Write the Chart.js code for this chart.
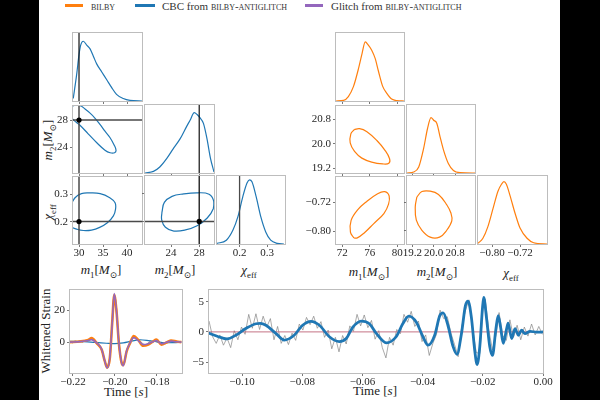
<!DOCTYPE html>
<html>
<head>
<meta charset="utf-8">
<script src="https://cdn.jsdelivr.net/npm/chart.js@4.4.1/dist/chart.umd.min.js"></script>
<style>
  html, body { margin: 0; padding: 0; background: #000; }
  body { width: 600px; height: 400px; position: relative; overflow: hidden; font-family: 'Liberation Serif', 'DejaVu Serif', serif; }
  #page { position: absolute; left: 39px; top: 0; width: 521px; height: 400px; background: #fff; }
  .lab { position: absolute; transform: translate(-50%, -50%); white-space: nowrap; font-size: 13px; color: #222; line-height: 14px; }
  .rot { transform: translate(-50%, -50%) rotate(-90deg); }
  .sw { position: absolute; height: 3px; }
  .lg { position: absolute; font-size: 11px; line-height: 12px; color: #333; white-space: nowrap; }
  .sc { font-variant: small-caps; }
  sub { font-size: 68%; line-height: 0; }
</style>
</head>
<body>
<div id="page"></div>

<!-- legend -->
<div class="sw" style="left:65px;top:4px;width:18px;background:#ff7f0e"></div>
<div class="lg" style="left:91px;top:0px"><span class="sc">bilby</span></div>
<div class="sw" style="left:135px;top:4px;width:20px;background:#1f77b4"></div>
<div class="lg" style="left:162px;top:0px">CBC from <span class="sc">bilby-antiglitch</span></div>
<div class="sw" style="left:305px;top:4px;width:18px;background:#9467bd"></div>
<div class="lg" style="left:331px;top:0px">Glitch from <span class="sc">bilby-antiglitch</span></div>

<!-- axis labels -->
<div class="lab" style="left:101px;top:270px"><i>m</i><sub>1</sub>[<i>M</i><sub>⊙</sub>]</div>
<div class="lab" style="left:175px;top:270px"><i>m</i><sub>2</sub>[<i>M</i><sub>⊙</sub>]</div>
<div class="lab" style="left:249px;top:270px"><i>χ</i><sub>eff</sub></div>
<div class="lab rot" style="left:48px;top:140px"><i>m</i><sub>2</sub>[<i>M</i><sub>⊙</sub>]</div>
<div class="lab rot" style="left:48px;top:212px"><i>χ</i><sub>eff</sub></div>
<div class="lab" style="left:369px;top:272px"><i>m</i><sub>1</sub>[<i>M</i><sub>⊙</sub>]</div>
<div class="lab" style="left:437px;top:272px"><i>m</i><sub>2</sub>[<i>M</i><sub>⊙</sub>]</div>
<div class="lab" style="left:511px;top:273px"><i>χ</i><sub>eff</sub></div>
<div class="lab rot" style="left:46px;top:331px">Whitened Strain</div>
<div class="lab" style="left:126px;top:392px">Time [<i>s</i>]</div>
<div class="lab" style="left:375px;top:391px">Time [<i>s</i>]</div>

<script>
// ---- CBC from bilby-antiglitch (left corner) ----
const cbcM1X = [28.8, 29.5, 30.0, 30.35, 30.9, 31.6, 32.3, 33.0, 33.7, 34.7, 35.8, 36.8, 37.8, 39.2, 40.6, 43.1];
const cbcM1P = [0.04, 0.41, 0.73, 0.88, 0.94, 0.88, 0.82, 0.70, 0.58, 0.46, 0.33, 0.21, 0.105, 0.04, 0.01, 0];
const cbcM2X = [20.3, 21.5, 22.4, 23.4, 24.3, 25.3, 26.2, 26.7, 27.3, 27.7, 28.1, 28.6, 29.1, 29.6, 30.1];
const cbcM2P = [0, 0.026, 0.095, 0.23, 0.38, 0.54, 0.73, 0.83, 0.95, 0.92, 0.87, 0.78, 0.54, 0.23, 0.016];
const cbcChiX = [0.117, 0.152, 0.176, 0.194, 0.212, 0.227, 0.236, 0.245, 0.26, 0.277, 0.295, 0.313, 0.337, 0.361];
const cbcChiP = [0.01, 0.06, 0.22, 0.43, 0.75, 0.96, 1.01, 0.98, 0.75, 0.43, 0.19, 0.06, 0.01, 0];

const cbcM1M2X = [28.1, 28.47, 30.2, 31.25, 32.3, 33.3, 34.4, 35.4, 36.46, 37.3, 37.7, 37.4, 36.46, 35.4, 33.7, 31.9, 30.2, 28.8, 28.1];
const cbcM1M2Y = [28.76, 29.95, 30.1, 29.6, 29.0, 28.29, 27.33, 26.38, 25.43, 24.38, 23.62, 23.24, 23.24, 23.62, 24.7, 26.0, 27.24, 28.05, 28.76];
const cbcM1ChiX = [28.26, 29.17, 30.5, 32.2, 34.4, 36.4, 37.5, 37.6, 37.15, 35.9, 34.3, 32.6, 30.9, 29.5, 28.26];
const cbcM1ChiY = [0.259, 0.2875, 0.3025, 0.305, 0.3025, 0.2875, 0.269, 0.246, 0.221, 0.196, 0.179, 0.169, 0.1675, 0.1725, 0.181];
const cbcM2ChiX = [22.71, 23.05, 24.14, 25.8, 27.7, 29.4, 30.05, 30.0, 29.14, 27.7, 26.05, 24.4, 23.2, 22.67, 22.71];
const cbcM2ChiY = [0.234, 0.269, 0.291, 0.300, 0.304, 0.299, 0.275, 0.246, 0.2125, 0.184, 0.169, 0.165, 0.179, 0.206, 0.234];

const truthM1 = 30, truthM2 = 28, truthChi = 0.2;

// ---- bilby (right corner) ----
const bilM1X = [71.1, 72.2, 72.9, 73.65, 74.4, 74.9, 75.35, 75.8, 76.3, 76.8, 77.3, 77.9, 78.5, 79.2, 80.0, 81.0];
const bilM1P = [0, 0.01, 0.07, 0.23, 0.52, 0.75, 0.93, 0.88, 0.80, 0.67, 0.46, 0.23, 0.12, 0.03, 0.005, 0];
const bilM2X = [19.0, 19.25, 19.44, 19.62, 19.77, 19.9, 20.0, 20.12, 20.24, 20.37, 20.55, 20.74, 20.99, 21.55];
const bilM2P = [0, 0.016, 0.095, 0.38, 0.70, 0.87, 0.83, 0.78, 0.57, 0.36, 0.15, 0.04, 0.005, 0];
const bilChiX = [-0.840, -0.826, -0.812, -0.797, -0.783, -0.773, -0.766, -0.759, -0.749, -0.734, -0.720, -0.700, -0.681, -0.643];
const bilChiP = [0.01, 0.09, 0.27, 0.56, 0.83, 0.94, 0.98, 0.94, 0.77, 0.48, 0.25, 0.09, 0.02, 0];

const bilM1M2X = [73.75, 74.52, 75.6, 77.05, 78.26, 78.9, 78.8, 77.9, 76.3, 74.86, 73.8, 73.17, 73.26, 73.75];
const bilM1M2Y = [20.47, 20.5, 20.4, 20.11, 19.78, 19.51, 19.36, 19.34, 19.4, 19.53, 19.75, 20.03, 20.33, 20.47];
const bilM1ChiX = [73.7, 73.2, 73.3, 74.28, 75.54, 77.1, 78.2, 78.84, 78.75, 78.07, 76.6, 75.16, 74.2, 73.7];
const bilM1ChiY = [-0.819, -0.803, -0.770, -0.740, -0.718, -0.6965, -0.690, -0.702, -0.7247, -0.751, -0.779, -0.806, -0.819, -0.819];
const bilM2ChiX = [19.37, 19.56, 19.87, 20.18, 20.49, 20.65, 20.68, 20.49, 20.22, 19.87, 19.56, 19.35, 19.31, 19.37];
const bilM2ChiY = [-0.706, -0.691, -0.690, -0.699, -0.7275, -0.751, -0.772, -0.798, -0.817, -0.817, -0.798, -0.770, -0.733, -0.706];

// ---- whitened strain, zoom on glitch (bottom left) ----
const fitLeftT = [-0.2214, -0.2167, -0.2127, -0.2111, -0.2087, -0.2063, -0.2048, -0.2037, -0.2024, -0.2013, -0.2003, -0.1992, -0.1981, -0.1968, -0.1960, -0.1944, -0.1929, -0.1910, -0.1889, -0.1865, -0.1841, -0.1818, -0.1802, -0.1778, -0.1754, -0.1730, -0.1706, -0.1683];
const bilbyLeftV = [0, 0.4, 1.4, 2.5, -0.6, -4.7, -12, -16, -9.9, 11.8, 29.5, 19, -0.6, -13, -14.5, -5.8, -1, 3.8, 1.4, -2.3, -1.6, 0.4, 1.6, -1.6, -0.2, 1, 0.4, 0];
const glitchLeftV = [0, 0.3, 1.0, 1.6, -0.5, -4.5, -12, -16.3, -10, 11.5, 30.5, 19.5, -0.3, -13, -14.8, -5.5, -0.8, 2.8, 1.0, -1.6, -1.0, 0.3, 1.0, -1.0, -0.1, 0.6, 0.2, 0];
const cbcLeftT = [-0.2214, -0.215, -0.209, -0.204, -0.200, -0.196, -0.192, -0.188, -0.184, -0.180, -0.176, -0.172, -0.1683];
const cbcLeftV = [0.5, 0.3, -0.2, -0.7, -1.0, -0.5, 0.6, 1.5, 1.0, 0.2, -0.4, -0.3, 0];
const dataLeftT = [-0.2214, -0.2202, -0.2190, -0.2178, -0.2166, -0.2154, -0.2142, -0.2130, -0.2118, -0.2106, -0.2094, -0.2082, -0.2070, -0.2058, -0.2046, -0.2036, -0.2026, -0.2016, -0.2006, -0.1998, -0.1988, -0.1978, -0.1968, -0.1958, -0.1948, -0.1938, -0.1926, -0.1914, -0.1902, -0.1890, -0.1878, -0.1866, -0.1854, -0.1842, -0.1830, -0.1818, -0.1806, -0.1794, -0.1782, -0.1770, -0.1758, -0.1746, -0.1734, -0.1722, -0.1710, -0.1698, -0.1686];
const dataLeftV = [0.3, -0.5, 0.8, 0.2, 1.0, -0.2, 1.2, 0.6, 2.2, 1.4, 0.4, -1.8, -3.0, -7.5, -13, -15.5, -11, 5, 26, 28, 12, -6, -12.5, -13.5, -8, -3.5, 0.2, 2.5, 3.2, 1.2, 0.5, -1.0, -2.0, -0.5, 0.8, -0.3, 1.5, 0.6, -1.2, -0.4, -1.0, 0.5, 1.2, 0.3, 0.9, -0.2, 0.5];

// ---- whitened strain, chirp (bottom right) ----
const cbcRightT = [-0.1112, -0.1066, -0.1050, -0.1021, -0.0988, -0.0954, -0.0940, -0.0921, -0.0888, -0.0860, -0.0827, -0.0799, -0.0771, -0.0743, -0.0710, -0.0677, -0.0654, -0.0632, -0.0604, -0.0577, -0.0554, -0.0521, -0.0488, -0.0466, -0.0446, -0.0421, -0.0399, -0.0382, -0.0360, -0.0343, -0.0332, -0.0316, -0.0299, -0.0286, -0.0271, -0.0258, -0.0249, -0.0238, -0.0227, -0.0219, -0.0210, -0.0201, -0.0197, -0.0188, -0.0177, -0.0168, -0.0157, -0.0149, -0.0141, -0.0132, -0.0121, -0.0116, -0.0104, -0.0093, -0.0082, -0.0071, -0.0060, -0.0043, -0.0021, 0.0];
const cbcRightV = [-0.2, -1.0, -1.15, -0.55, 0.55, 1.35, 1.4, 1.1, -0.25, -1.35, -0.55, 1.1, 1.75, 1.1, -0.8, -1.6, -1.1, 0.8, 1.8, 1.35, -0.25, -1.8, -0.8, 1.35, 2.6, 1.6, -0.8, -2.2, -0.55, 2.7, 3.15, 1.1, -2.4, -3.7, -0.3, 4.3, 5.1, 2.4, -3.0, -5.4, -2.4, 4.0, 5.7, 2.4, -2.4, -3.9, 0.3, 2.7, 0.8, -1.9, 0.5, 1.45, -1.1, 0.55, -0.55, 0.3, -0.3, 0.1, -0.05, 0];
const dataRightT = [-0.1110, -0.1098, -0.1086, -0.1074, -0.1062, -0.1050, -0.1038, -0.1026, -0.1014, -0.1002, -0.0990, -0.0978, -0.0966, -0.0954, -0.0942, -0.0930, -0.0918, -0.0906, -0.0894, -0.0882, -0.0870, -0.0858, -0.0846, -0.0834, -0.0822, -0.0810, -0.0798, -0.0786, -0.0774, -0.0762, -0.0750, -0.0738, -0.0726, -0.0714, -0.0702, -0.0690, -0.0678, -0.0666, -0.0654, -0.0642, -0.0630, -0.0618, -0.0606, -0.0594, -0.0582, -0.0570, -0.0558, -0.0546, -0.0534, -0.0522, -0.0510, -0.0498, -0.0486, -0.0474, -0.0462, -0.0450, -0.0438, -0.0426, -0.0414, -0.0402, -0.0390, -0.0378, -0.0366, -0.0354, -0.0342, -0.0330, -0.0318, -0.0306, -0.0294, -0.0282, -0.0270, -0.0258, -0.0246, -0.0234, -0.0222, -0.0210, -0.0200, -0.0192, -0.0180, -0.0168, -0.0156, -0.0146, -0.0134, -0.0122, -0.0110, -0.0098, -0.0086, -0.0074, -0.0062, -0.0050, -0.0038, -0.0026, -0.0014, -0.0002];
const dataRightV = [1.8, -0.8, -1.9, -0.5, -2.2, -1.0, -2.6, 0.2, -1.3, 0.8, -0.4, 2.9, 0.6, 3.0, 0.4, 2.6, 0.8, 2.2, -1.3, 0.9, -1.9, -0.6, -2.1, -0.2, -1.4, 1.3, 0.3, 2.4, 1.2, 2.6, 0.6, 1.7, -0.9, 0.3, -2.8, -0.9, -3.3, -0.6, -2.0, 1.0, 0.1, 2.9, 1.0, 2.8, 0.7, 1.9, -1.2, 0.2, -2.6, -4.3, -0.9, -2.2, 0.4, -0.3, 2.9, 1.6, 3.4, 0.9, 1.8, -1.6, -0.5, -3.9, -1.9, -0.4, 3.6, 2.2, 2.5, -0.2, -2.1, -4.1, 0.9, 3.5, 5.3, 0.6, -3.4, -3.6, 3.8, 5.4, 0.3, -3.0, -0.5, 3.2, -0.6, -1.4, 2.0, -0.9, 1.1, -1.3, 0.8, -0.7, 1.3, -0.5, 0.9, -0.4];
const glitchRightT = [-0.111, 0.0];
const glitchRightV = [0, 0];

// ---- ticks ----
const tkM1L = [30, 35, 40], tkM1LLab = ['30', '35', '40'];
const tkM2L = [24, 28], tkM2LLab = ['24', '28'];
const tkChiL = [0.2, 0.3], tkChiLLab = ['0.2', '0.3'];
const tkM1R = [72, 76, 80], tkM1RLab = ['72', '76', '80'];
const tkM2R = [19.2, 20.0, 20.8], tkM2RLab = ['19.2', '20.0', '20.8'];
const tkChiR = [-0.80, -0.72], tkChiRLab = ['\u22120.80', '\u22120.72'];
const tkTimeL = [-0.22, -0.20, -0.18], tkTimeLLab = ['\u22120.22', '\u22120.20', '\u22120.18'];
const tkStrainL = [0, 20], tkStrainLLab = ['0', '20'];
const tkTimeR = [-0.10, -0.08, -0.06, -0.04, -0.02, 0.00], tkTimeRLab = ['\u22120.10', '\u22120.08', '\u22120.06', '\u22120.04', '\u22120.02', '0.00'];
const tkStrainR = [-5, 0, 5], tkStrainRLab = ['\u22125', '0', '5'];

const ORANGE = '#ff7f0e', BLUE = '#1f77b4', PURPLE = '#9467bd';
const L = 36, T = 8, R = 18, B = 18;
const tickFont = { family: "'Liberation Serif', 'DejaVu Serif', serif", size: 11 };

const frame = {
  id: 'frame',
  afterDatasetsDraw(c) {
    const a = c.chartArea, ctx = c.ctx;
    ctx.save();
    ctx.strokeStyle = '#bdbdbd';
    ctx.lineWidth = 1;
    ctx.strokeRect(Math.round(a.left) - 0.5, Math.round(a.top) - 0.5, Math.round(a.right - a.left) + 1, Math.round(a.bottom - a.top) + 1);
    ctx.restore();
  }
};

const pts = (xs, ys) => xs.map((x, i) => ({ x, y: ys[i] }));

function curve(xs, ys, color, width, mode) {
  return {
    data: pts(xs, ys), showLine: true, borderColor: color, borderWidth: width, pointRadius: 0,
    tension: mode === 'loop' ? 0.4 : 0,
    cubicInterpolationMode: mode === 'mono' ? 'monotone' : 'default'
  };
}
const vline = (v, yr, color, w) => ({ data: [{ x: v, y: yr[0] }, { x: v, y: yr[1] }], showLine: true, borderColor: color, borderWidth: w, pointRadius: 0 });
const hline = (v, xr, color, w) => ({ data: [{ x: xr[0], y: v }, { x: xr[1], y: v }], showLine: true, borderColor: color, borderWidth: w, pointRadius: 0 });
const dot = (x, y) => ({ data: [{ x, y }], showLine: false, pointRadius: 2.6, pointBackgroundColor: '#000', pointBorderWidth: 0 });

function axis(isX, range, ticks, labels, showLabels, marks) {
  return {
    type: 'linear', min: range[0], max: range[1],
    afterFit: s => { if (isX) s.height = B; else s.width = L; },
    afterBuildTicks: s => { s.ticks = ticks.map(v => ({ value: v })); },
    ticks: { display: showLabels, autoSkip: false, maxRotation: 0, padding: isX ? 0 : 2, color: '#262626', font: tickFont, callback: (v, i) => labels[i] },
    grid: { drawOnChartArea: false, drawTicks: marks, tickLength: 3, color: '#555', lineWidth: 0.8 },
    border: { display: false }
  };
}
const noY = () => axis(false, [0, 1.07], [0], [''], false, false);

function panel(px, py, pw, ph, xAx, yAx, datasets) {
  const box = document.createElement('div');
  box.style.cssText = `position:absolute;left:${px - L}px;top:${py - T}px;width:${pw + L + R}px;height:${ph + T + B}px;`;
  const cv = document.createElement('canvas');
  box.appendChild(cv);
  document.body.appendChild(box);
  new Chart(cv, {
    type: 'scatter',
    data: { datasets },
    plugins: [frame],
    options: {
      responsive: true, maintainAspectRatio: false, animation: false, events: [],
      layout: { padding: { left: 0, top: T, right: R, bottom: 0 } },
      plugins: { legend: { display: false }, tooltip: { enabled: false } },
      scales: { x: xAx, y: yAx }
    }
  });
}

// ---- left corner ----
const rM1L = [28.75, 43.1], rM2L = [20.3, 30.1], rChiL = [0.118, 0.365], rP = [0, 1.07];
const TL = '#4a4a4a', T1 = '#111';
const cx = [73, 145, 217], ry = [33, 105, 176], PW = 69, PH = 68;

panel(cx[0], ry[0], PW, PH, axis(true, rM1L, tkM1L, tkM1LLab, false, true), noY(),
  [vline(truthM1, rP, T1, 1.2), curve(cbcM1X, cbcM1P, BLUE, 1.2, 'mono')]);
panel(cx[0], ry[1], PW, PH, axis(true, rM1L, tkM1L, tkM1LLab, false, true), axis(false, rM2L, tkM2L, tkM2LLab, true, true),
  [dot(truthM1, truthM2), vline(truthM1, rM2L, TL, 1.5), hline(truthM2, rM1L, TL, 1.5), curve(cbcM1M2X, cbcM1M2Y, BLUE, 1.2, 'loop')]);
panel(cx[1], ry[1], PW, PH, axis(true, rM2L, tkM2L, tkM2LLab, false, true), noY(),
  [vline(truthM2, rP, T1, 1.2), curve(cbcM2X, cbcM2P, BLUE, 1.2, 'mono')]);
panel(cx[0], ry[2], PW, PH, axis(true, rM1L, tkM1L, tkM1LLab, true, true), axis(false, rChiL, tkChiL, tkChiLLab, true, true),
  [dot(truthM1, truthChi), vline(truthM1, rChiL, TL, 1.5), hline(truthChi, rM1L, TL, 1.5), curve(cbcM1ChiX, cbcM1ChiY, BLUE, 1.2, 'loop')]);
panel(cx[1], ry[2], PW, PH, axis(true, rM2L, tkM2L, tkM2LLab, true, true), axis(false, rChiL, tkChiL, tkChiLLab, false, true),
  [dot(truthM2, truthChi), vline(truthM2, rChiL, T1, 1.3), hline(truthChi, rM2L, TL, 1.5), curve(cbcM2ChiX, cbcM2ChiY, BLUE, 1.2, 'loop')]);
panel(cx[2], ry[2], PW - 1, PH, axis(true, rChiL, tkChiL, tkChiLLab, true, true), noY(),
  [vline(truthChi, rP, TL, 1.3), curve(cbcChiX, cbcChiP, BLUE, 1.2, 'mono')]);

// ---- right corner ----
const rM1R = [71.1, 81.0], rM2Rx = [19.0, 21.55], rM2Ry = [19.04, 21.26], rChiRx = [-0.84, -0.643], rChiRy = [-0.836, -0.648];
const qx = [336, 407, 478];

panel(qx[0], ry[0], PW - 1, PH, axis(true, rM1R, tkM1R, tkM1RLab, false, true), noY(),
  [curve(bilM1X, bilM1P, ORANGE, 1.2, 'mono')]);
panel(qx[0], ry[1], PW - 1, PH, axis(true, rM1R, tkM1R, tkM1RLab, false, true), axis(false, rM2Ry, tkM2R, tkM2RLab, true, true),
  [curve(bilM1M2X, bilM1M2Y, ORANGE, 1.2, 'loop')]);
panel(qx[1], ry[1], PW - 1, PH, axis(true, rM2Rx, tkM2R, tkM2RLab, false, true), noY(),
  [curve(bilM2X, bilM2P, ORANGE, 1.2, 'mono')]);
panel(qx[0], ry[2], PW - 1, PH, axis(true, rM1R, tkM1R, tkM1RLab, true, true), axis(false, rChiRy, tkChiR, tkChiRLab, true, true),
  [curve(bilM1ChiX, bilM1ChiY, ORANGE, 1.2, 'loop')]);
panel(qx[1], ry[2], PW - 1, PH, axis(true, rM2Rx, tkM2R, tkM2RLab, true, true), axis(false, rChiRy, tkChiR, tkChiRLab, false, true),
  [curve(bilM2ChiX, bilM2ChiY, ORANGE, 1.2, 'loop')]);
panel(qx[2], ry[2], PW, PH, axis(true, rChiRx, tkChiR, tkChiRLab, true, true), noY(),
  [curve(bilChiX, bilChiP, ORANGE, 1.2, 'mono')]);

// ---- bottom panels ----
const GRAY = 'rgba(128,128,128,0.75)';
panel(70, 289, 112, 84, axis(true, [-0.2214, -0.168], tkTimeL, tkTimeLLab, true, true), axis(false, [-19.4, 33], tkStrainL, tkStrainLLab, true, true),
  [curve(fitLeftT, glitchLeftV, PURPLE, 1.6, 'mono'),
   curve(fitLeftT, bilbyLeftV, ORANGE, 2.6, 'mono'),
   curve(cbcLeftT, cbcLeftV, BLUE, 1.2, 'mono'),
   curve(dataLeftT, dataLeftV, GRAY, 0.9, 'none')]);
panel(209, 289, 334, 84, axis(true, [-0.111, 0], tkTimeR, tkTimeRLab, true, true), axis(false, [-6.8, 7], tkStrainR, tkStrainRLab, true, true),
  [curve(cbcRightT, cbcRightV, BLUE, 2.8, 'mono'),
   curve(glitchRightT, glitchRightV, 'rgba(190,100,120,0.9)', 1, 'none'),
   curve(dataRightT, dataRightV, GRAY, 0.9, 'none')]);
</script>
</body>
</html>
